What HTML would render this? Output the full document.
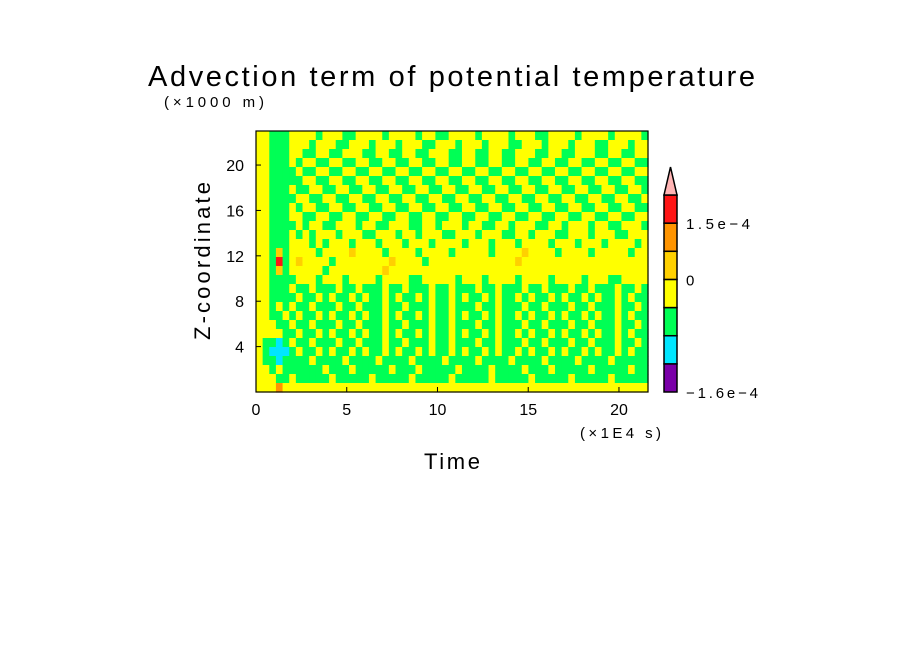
<!DOCTYPE html>
<html><head><meta charset="utf-8">
<style>
body{margin:0;background:#fff;}
svg text{font-family:"Liberation Sans",sans-serif;fill:#000;}
</style></head>
<body>
<svg id="chart" width="904" height="654" viewBox="0 0 904 654">
<rect width="904" height="654" fill="#fff"/>
<text x="148" y="86" font-size="29" textLength="607" lengthAdjust="spacing">Advection term of potential temperature</text>
<text x="164" y="107" font-size="15" textLength="100" lengthAdjust="spacing">(×1000 m)</text>
<g id="heat"></g>
<rect x="256" y="131" width="392" height="261" fill="none" stroke="#000" stroke-width="1.2"/>
<g id="axes"></g>
<text x="580" y="438" font-size="15" textLength="81" lengthAdjust="spacing">(×1E4 s)</text>
<text x="424" y="469" font-size="22" textLength="56" lengthAdjust="spacing">Time</text>
<text transform="translate(210,261) rotate(-90)" font-size="22" text-anchor="middle" textLength="158" lengthAdjust="spacing">Z-coordinate</text>
<g id="cbar"></g>
</svg>
<script>
const xTicks=[0,5,10,15,20];
const yTicks=[4,8,12,16,20];
const xMax=21.6, zMax=23;
const levelColors=["#7a00a8","#00e6ff","#00ff55","#ffff00","#ffd000","#ff9400","#ff1515"];
const cbarLabels=["1.5e-4","0","-1.6e-4"];
const cbarLabelLevels=[6,3,0];
const fieldRows=[
"33222333323332233332333323322333323333233322333323333233332",
"33222333233322333233323332233323332333223332333233322333233",
"33222332233223332233223322333223322332233322332233322332233",
"33222323322332233223322332233223322332233223322332233223322",
"33222232233223322332233223322332233223322332233223322332233",
"33222223322332233223322332233223322332233223322332233223322",
"33222322332233223322332233223322332233223322332233223322332",
"33222233223322332233223322332233223322332233223322332233223",
"33222323322332233223322332233223322332233223322332233223322",
"33222332233223322332233223322332233223322332233223322332233",
"33222232332233323322333223323332332233233322332333233223332",
"33222323233323332233323323332233323332233233322333233322333",
"33222333232333233323332333233332333233323333233323332333323",
"33242333323333433332333323333233333233334333323333233333233",
"33262343333233333333433332333333333333343333333333333333333",
"33242333332333333334333333333333333333333333333333333333333",
"33222233323332333323333223333323332333323333233332333223333",
"33222322322232232223223222322322232232223223222322322232232",
"33222232232322323223232232322323223232232322323223232232322",
"33232322322232232223223222322322232232223223222322322232232",
"33223232232322323223232232322323223232232322323223232232322",
"33322322322232232223223222322322232232223223222322322232232",
"33332232232322323223232232322323223232232322323223232232322",
"32212322322232232223223222322322232232223223222322322232232",
"32111232232322323223232232322323223232232322323223232232322",
"32212222322223222232222322223222232222322223222232222322222",
"33232222223222322222322232222232222322223222322222322222322",
"33322322222322222322222322222322222322222322222322222322222",
"33353333333333333333333333333333333333333333333333333333333"
];
const NS="http://www.w3.org/2000/svg";
const L=256,R=648,T=131,B=392;
const xs=v=>L+(v/xMax)*(R-L);
const ys=v=>B-(v/zMax)*(B-T);
function mk(tag,attrs,parent){const e=document.createElementNS(NS,tag);for(const k in attrs)e.setAttribute(k,attrs[k]);parent.appendChild(e);return e;}
const heat=document.getElementById('heat');
const nR=fieldRows.length, nC=Math.max(...fieldRows.map(r=>r.length));
const cw=(R-L)/nC, ch=(B-T)/nR;
fieldRows.forEach((row,ri)=>{
  for(let ci=0;ci<nC;ci++){
    const lv=parseInt(row[ci]||"3");
    const c=mk('rect',{x:L+ci*cw,y:T+ri*ch,width:cw+0.6,height:ch+0.6,fill:levelColors[lv]},heat);
    
    
  }
});
const axes=document.getElementById('axes');
xTicks.forEach(t=>{
  const x=xs(t);
  const l=mk('line',{x1:x,y1:B,x2:x,y2:B-5,stroke:'#000'},axes);
  
  
  const tx=mk('text',{x:x,y:B+23,'font-size':16,'text-anchor':'middle'},axes);
  tx.textContent=t;
  
  
});
yTicks.forEach(t=>{
  const y=ys(t);
  const l=mk('line',{x1:L,y1:y,x2:L+5,y2:y,stroke:'#000'},axes);
  
  
  const tx=mk('text',{x:L-12,y:y+6,'font-size':16,'text-anchor':'end'},axes);
  tx.textContent=t;
  
  
});
const cb=document.getElementById('cbar');
const cL=664,cR=677,cT=195,cB=392;
const bh=(cB-cT)/levelColors.length;
levelColors.forEach((col,i)=>{
  const y=cB-(i+1)*bh;
  const r=mk('rect',{x:cL,y:y,width:cR-cL,height:bh,fill:col,stroke:'#000','stroke-width':1.5},cb);
  
  
});
const tri=mk('polygon',{points:`${cL},${cT} ${cR},${cT} ${(cL+cR)/2},167`,fill:'#ffb4b4',stroke:'#000','stroke-width':1.5},cb);


const cbLens=[64,8,72];
cbarLabels.forEach((s,i)=>{
  const lv=cbarLabelLevels[i];
  const y=cB-(lv+1)*bh+(lv===0?bh:0);
  const yy=lv===6?cB-6*bh:y;
  const tx=mk('text',{x:686,y:yy+6,'font-size':15,textLength:cbLens[i],lengthAdjust:'spacing'},cb);
  tx.textContent=s.replace(/-/g,'\u2212');
  
  
});
</script>
</body></html>
